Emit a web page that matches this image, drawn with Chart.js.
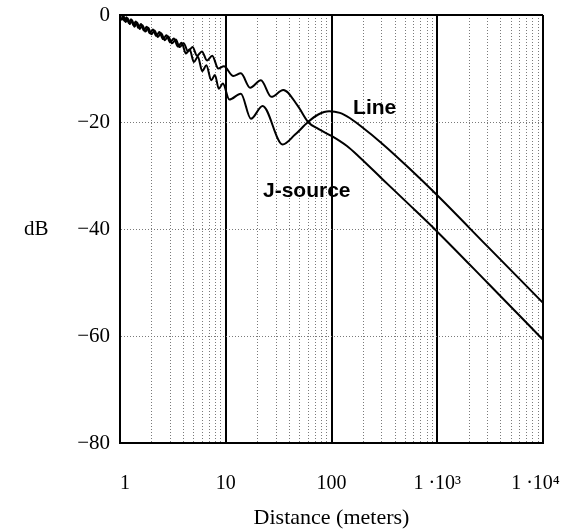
<!DOCTYPE html>
<html>
<head>
<meta charset="utf-8">
<script src="https://cdn.jsdelivr.net/npm/chart.js@4.4.1/dist/chart.umd.min.js"></script>
<style>
  html, body { margin: 0; padding: 0; background: #fff; }
  #wrap { width: 564px; height: 531px; position: relative; }
</style>
</head>
<body>
<div id="wrap"><canvas id="lossChart"></canvas></div>
<script>
// --- Values (distance in m, level in dB) ---
const distJ = [1.00, 1.04, 1.08, 1.13, 1.18, 1.24, 1.30, 1.37, 1.45, 1.54, 1.63, 1.74, 1.85, 1.98,
  2.12, 2.28, 2.45, 2.65, 2.86, 3.10, 3.37, 3.66, 4.00, 4.40, 4.85, 5.35, 5.95, 6.65, 7.45, 8.50,
  9.60, 11.8, 13.9, 17.0, 21.5, 27.0, 35.0, 48.0, 60.0, 75.0, 100, 140, 180, 300, 540, 1000, 3000, 10000];
const dbJ = [0, -0.9, -0.2, -1.3, -0.6, -1.7, -1.0, -2.2, -1.4, -2.6, -1.9, -3.1, -2.4, -3.6,
  -2.9, -4.1, -3.4, -4.7, -4.0, -5.3, -4.6, -6.0, -5.3, -6.8, -6.0, -7.6, -6.8, -8.5, -7.6, -10.0,
  -9.6, -11.4, -10.9, -13.6, -12.2, -15.3, -14.0, -17.0, -20.0, -21.3, -22.6, -24.5, -26.4, -30.6, -35.4, -40.5, -50.1, -60.7];

const distLine = [1.00, 1.05, 1.10, 1.15, 1.21, 1.27, 1.34, 1.41, 1.49, 1.58, 1.68, 1.79, 1.91, 2.05,
  2.20, 2.36, 2.55, 2.75, 2.98, 3.23, 3.52, 3.83, 4.20, 4.55, 5.00, 5.45, 6.00, 6.55, 7.30, 7.90,
  8.60, 9.40, 10.8, 13.9, 17.3, 22.3, 34.5, 45.0, 60.0, 75.0, 95.0, 120, 150, 190, 300, 540, 1000, 3000, 10000];
const dbLine = [0, -0.1, -1.1, -0.4, -1.5, -0.8, -1.9, -1.2, -2.4, -1.7, -2.9, -2.2, -3.4, -2.7,
  -3.9, -3.2, -4.5, -3.8, -5.1, -4.4, -5.9, -5.2, -7.2, -6.4, -8.8, -7.8, -10.5, -9.4, -12.2, -11.2,
  -13.8, -12.8, -15.8, -14.7, -19.4, -17.0, -24.2, -22.4, -20.0, -18.6, -18.0, -18.3, -19.3, -20.8, -24.0, -28.6, -33.7, -43.3, -53.8];

// axis ticks
const xTicks = [1, 2, 3, 4, 5, 6, 7, 8, 9, 10, 20, 30, 40, 50, 60, 70, 80, 90,
  100, 200, 300, 400, 500, 600, 700, 800, 900, 1000, 2000, 3000, 4000, 5000, 6000, 7000, 8000, 9000, 10000];
const decades = [1, 10, 100, 1000, 10000];
const decadeLabels = ['  1', '10', '100', '1 \u00b710\u00b3', '1 \u00b710\u2074   '];
const yTicks = [0, -20, -40, -60, -80];
const yTickLabels = ['0', '\u221220', '\u221240', '\u221260', '\u221280'];

// curve notes
const noteTexts = ['Line', 'J-source'];
const noteX = [160, 22.5];
const noteY = [-17.5, -33.0];

const serif = '"Liberation Serif", "Times New Roman", serif';

const textLabels = {
    id: 'textLabels',
    afterDraw(chart) {
        const { ctx, chartArea } = chart;
        const x = chart.scales.x, y = chart.scales.y;
        ctx.save();
        ctx.fillStyle = '#000';
        ctx.textBaseline = 'middle';
        ctx.textAlign = 'left';
        ctx.font = 'bold 21px "Liberation Sans", Arial, sans-serif';
        noteTexts.forEach((t, i) => ctx.fillText(t, x.getPixelForValue(noteX[i]), y.getPixelForValue(noteY[i])));
        ctx.font = '21px ' + serif;
        ctx.fillText('dB', 24, (chartArea.top + chartArea.bottom) / 2);
        ctx.restore();
    }
};

const isDecade = v => decades.indexOf(v) >= 0;

new Chart(document.getElementById('lossChart'), {
    type: 'line',
    data: {
        datasets: [
            {
                label: 'Line',
                data: distLine.map((d, i) => ({ x: d, y: dbLine[i] })),
                borderColor: '#000', borderWidth: 2, pointRadius: 0,
                cubicInterpolationMode: 'monotone', fill: false
            },
            {
                label: 'J-source',
                data: distJ.map((d, i) => ({ x: d, y: dbJ[i] })),
                borderColor: '#000', borderWidth: 2, pointRadius: 0,
                cubicInterpolationMode: 'monotone', fill: false
            }
        ]
    },
    options: {
        responsive: true,
        maintainAspectRatio: false,
        animation: false,
        layout: { padding: { left: 0, right: 21, top: 15, bottom: 0 } },
        plugins: { legend: { display: false }, tooltip: { enabled: false } },
        scales: {
            x: {
                type: 'logarithmic',
                min: 1, max: 10000,
                afterBuildTicks: s => { s.ticks = xTicks.map(v => ({ value: v })); },
                afterFit: s => { s.height = 88; s.paddingLeft = 0; s.paddingRight = 0; },
                ticks: {
                    autoSkip: false, maxRotation: 0, minRotation: 0, padding: 29,
                    color: '#000', font: { family: serif, size: 20 },
                    callback: v => isDecade(v) ? decadeLabels[decades.indexOf(v)] : ''
                },
                grid: {
                    drawTicks: false,
                    color: c => (c.tick && isDecade(c.tick.value)) ? '#000' : '#7a7a7a',
                    lineWidth: c => (c.tick && isDecade(c.tick.value)) ? 2 : 1
                },
                border: {
                    display: true, color: '#000', width: 2,
                    dash: c => (c.tick && isDecade(c.tick.value)) ? [] : [1, 2]
                },
                title: {
                    display: true, text: 'Distance (meters)', color: '#000',
                    font: { family: serif, size: 22 }, padding: { top: 0, bottom: 0 }
                }
            },
            y: {
                type: 'linear',
                min: -80, max: 0,
                afterBuildTicks: s => { s.ticks = yTicks.map(v => ({ value: v })); },
                afterFit: s => { s.width = 120; s.paddingTop = 0; s.paddingBottom = 0; },
                ticks: {
                    padding: 10, color: '#000', font: { family: serif, size: 21 },
                    callback: v => yTickLabels[yTicks.indexOf(v)]
                },
                grid: {
                    drawTicks: false,
                    color: c => (c.tick && c.tick.value === 0) ? '#000' : '#7a7a7a',
                    lineWidth: c => (c.tick && c.tick.value === 0) ? 2 : 1
                },
                border: {
                    display: true, color: '#000', width: 2,
                    dash: c => (c.tick && (c.tick.value === 0 || c.tick.value === -80)) ? [] : [1, 2]
                }
            }
        }
    },
    plugins: [textLabels]
});
</script>
</body>
</html>
